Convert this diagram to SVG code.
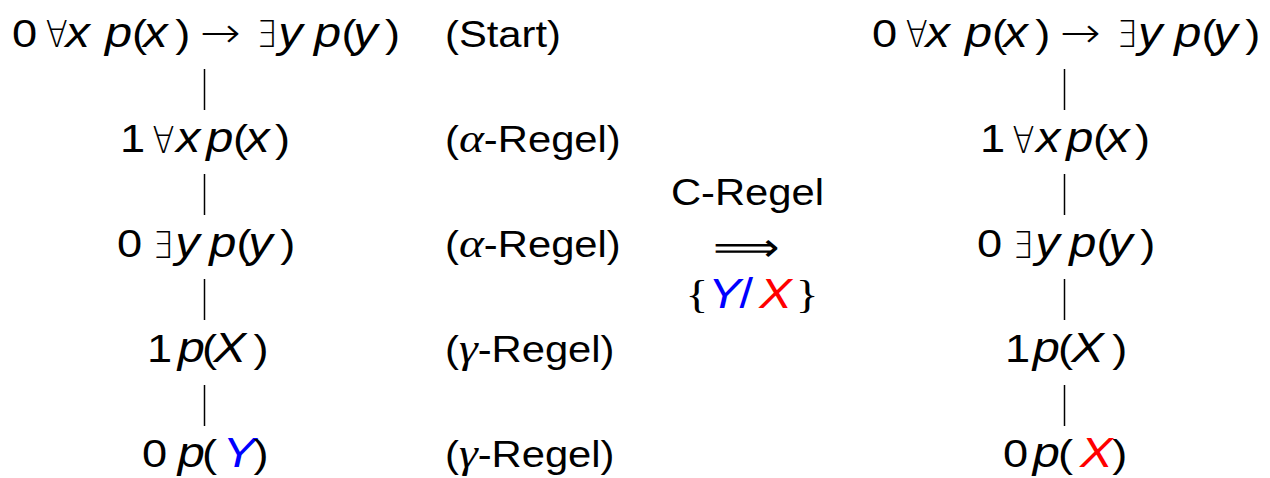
<svg xmlns="http://www.w3.org/2000/svg" width="1270" height="478" viewBox="0 0 1270 478">
<style>
text{font-family:"Liberation Sans",Arial,sans-serif;font-size:36px;fill:#000}
text.m{font-size:39px}
text.q{font-family:"DejaVu Sans",sans-serif;font-size:37px;font-weight:200}
.i{font-style:italic;font-size:42px}
.ar{font-family:"DejaVu Sans",sans-serif;font-size:42px;font-weight:200}
.g{font-family:"Liberation Serif",serif;font-style:italic;font-size:41px}
.br{font-family:"Liberation Serif",serif;font-size:41px}
.sl{font-size:42px}
.b{fill:#0000ff}
.r{fill:#ff0000}
line{stroke:#000;stroke-width:1.5}
</style>
<rect width="1270" height="478" fill="#fff"/>
<g id="connectors">
<line x1="204.5" y1="69" x2="204.5" y2="110"/>
<line x1="204.5" y1="174" x2="204.5" y2="215"/>
<line x1="204.5" y1="279" x2="204.5" y2="320"/>
<line x1="204.5" y1="385" x2="204.5" y2="426"/>
<line x1="1064.5" y1="69" x2="1064.5" y2="110"/>
<line x1="1064.5" y1="174" x2="1064.5" y2="215"/>
<line x1="1064.5" y1="279" x2="1064.5" y2="320"/>
<line x1="1064.5" y1="385" x2="1064.5" y2="426"/>
</g>
<g transform="scale(1.16,1)">
<g id="l0"><text class="m" y="47"><tspan x="10.34">0</tspan><tspan class="i" x="56.5">x</tspan><tspan class="i" x="90.5">p</tspan><tspan x="113.79">(</tspan><tspan class="i" x="123.5">x</tspan><tspan x="151">)</tspan><tspan class="ar" x="172.41">→</tspan><tspan class="i" x="239.8">y</tspan><tspan class="i" x="270.8">p</tspan><tspan x="294.3">(</tspan><tspan class="i" x="304.5">y</tspan><tspan x="332">)</tspan></text><text class="q" transform="translate(39.5,47) scale(0.75,1)">∀</text><text class="q" transform="translate(221,47) scale(0.75,1)">∃</text></g>
<g id="l1"><text class="m" y="152.5"><tspan x="103.45">1</tspan><tspan class="i" x="151.8">x</tspan><tspan class="i" x="177.7">p</tspan><tspan x="200.86">(</tspan><tspan class="i" x="211.5">x</tspan><tspan x="237">)</tspan></text><text class="q" transform="translate(131.5,152.5) scale(0.75,1)">∀</text></g>
<g id="l2"><text class="m" y="257.5"><tspan x="100.86">0</tspan><tspan class="i" x="151">y</tspan><tspan class="i" x="180.3">p</tspan><tspan x="203.8">(</tspan><tspan class="i" x="214">y</tspan><tspan x="241.5">)</tspan></text><text class="q" transform="translate(131.5,257.5) scale(0.75,1)">∃</text></g>
<g id="l3"><text class="m" y="362.5"><tspan x="126.72">1</tspan><tspan class="i" x="153.2">p</tspan><tspan x="174.14">(</tspan><tspan class="i" x="184">X</tspan><tspan x="218.5">)</tspan></text></g>
<g id="l4"><text class="m" y="467"><tspan x="122.41">0</tspan><tspan class="i" x="153.2">p</tspan><tspan x="174.14">(</tspan><tspan class="i b" x="192">Y</tspan><tspan x="218.5">)</tspan></text></g>
<g id="rule0"><text x="383.62" y="47">(Start)</text></g>
<g id="rule1"><text x="383.62" y="152.5">(<tspan class="g">α</tspan>-Regel)</text></g>
<g id="rule2"><text x="383.62" y="257.5">(<tspan class="g">α</tspan>-Regel)</text></g>
<g id="rule3"><text x="383.62" y="362.5">(<tspan class="g">γ</tspan>-Regel)</text></g>
<g id="rule4"><text x="383.62" y="467">(<tspan class="g">γ</tspan>-Regel)</text></g>
<g id="crule">
<text x="644.4" y="205" text-anchor="middle">C-Regel</text>
<text x="643.53" y="261" text-anchor="middle" class="q" style="font-size:40px">⟹</text>
<text class="m" y="308"><tspan class="br" x="591">{</tspan><tspan class="i b" x="610.5">Y</tspan><tspan class="b sl" x="637.5">/</tspan><tspan class="i r" x="654.5">X</tspan><tspan class="br" x="686">}</tspan></text>
</g>
<g id="r0"><text class="m" y="47"><tspan x="751.72">0</tspan><tspan class="i" x="797.9">x</tspan><tspan class="i" x="832">p</tspan><tspan x="855.17">(</tspan><tspan class="i" x="865">x</tspan><tspan x="892.4">)</tspan><tspan class="ar" x="913.79">→</tspan><tspan class="i" x="981.1">y</tspan><tspan class="i" x="1012.2">p</tspan><tspan x="1035.7">(</tspan><tspan class="i" x="1045.9">y</tspan><tspan x="1073.4">)</tspan></text><text class="q" transform="translate(780.9,47) scale(0.75,1)">∀</text><text class="q" transform="translate(962.4,47) scale(0.75,1)">∃</text></g>
<g id="r1"><text class="m" y="152.5"><tspan x="844.83">1</tspan><tspan class="i" x="893.2">x</tspan><tspan class="i" x="919.1">p</tspan><tspan x="942.24">(</tspan><tspan class="i" x="952.9">x</tspan><tspan x="978.4">)</tspan></text><text class="q" transform="translate(872.9,152.5) scale(0.75,1)">∀</text></g>
<g id="r2"><text class="m" y="257.5"><tspan x="842.24">0</tspan><tspan class="i" x="892.4">y</tspan><tspan class="i" x="921.7">p</tspan><tspan x="945.2">(</tspan><tspan class="i" x="955.4">y</tspan><tspan x="982.9">)</tspan></text><text class="q" transform="translate(872.9,257.5) scale(0.75,1)">∃</text></g>
<g id="r3"><text class="m" y="362.5"><tspan x="866.38">1</tspan><tspan class="i" x="890.3">p</tspan><tspan x="912.07">(</tspan><tspan class="i" x="923.4">X</tspan><tspan x="958.9">)</tspan></text></g>
<g id="r4"><text class="m" y="467"><tspan x="864.66">0</tspan><tspan class="i" x="890.3">p</tspan><tspan x="912.07">(</tspan><tspan class="i r" x="931">X</tspan><tspan x="958.9">)</tspan></text></g>
</g>
</svg>
